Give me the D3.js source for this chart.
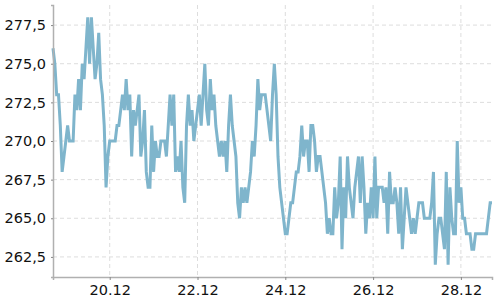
<!DOCTYPE html>
<html>
<head>
<meta charset="utf-8">
<script src="https://cdn.jsdelivr.net/npm/d3@7"></script>
<style>
  body { margin: 0; background: #fff; }
  .grid line { stroke: #ddd; stroke-dasharray: 4,3; }
  .axis text { font-family: "DejaVu Sans", sans-serif; font-size: 14.5px; fill: #111; }
</style>
</head>
<body>
<div id="chart"></div>
<script>
// hourly readings, first one at 18.12 17:00
var startTime = "2023-12-18T17:00:00";
var values = [
    276, 275, 273, 273, 271, 268, 269, 270, 271, 270, 270, 270, 273, 272, 274, 272, 275, 274, 276, 278,
    275, 278, 276, 274, 275, 277, 274, 273, 271, 267, 269, 270, 270, 270, 270, 271, 271, 272, 273, 272,
    274, 272, 273, 269, 272, 271, 272, 273, 269, 270, 272, 268, 267, 267, 271, 268, 270, 269, 269, 270,
    270, 270, 269, 271, 273, 271, 273, 268, 269, 268, 270, 267, 266, 271, 273, 271, 272, 270, 271, 272,
    273, 271, 273, 275, 272, 271, 274, 272, 273, 271, 270, 269, 270, 269, 270, 268, 271, 273, 271, 270,
    269, 266, 265, 267, 266, 267, 266, 267, 268, 270, 269, 271, 274, 272, 273, 273, 273, 272, 271, 270,
    273, 275, 273, 269, 267, 266, 265, 264, 264, 265, 266, 266, 267, 268, 268, 269, 271, 269, 270, 270,
    268, 271, 271, 270, 268, 269, 269, 268, 267, 266, 264, 265, 264, 264, 267, 265, 266, 269, 263, 267,
    265, 269, 267, 266, 265, 267, 268, 269, 266, 269, 267, 264, 266, 265, 267, 265, 269, 265, 267, 267,
    267, 266, 267, 264, 268, 266, 266, 267, 266, 264, 267, 263, 265, 267, 266, 265, 264, 265, 264, 265,
    266, 266, 266, 265, 265, 265, 265, 266, 268, 262, 264, 265, 265, 264, 263, 268, 262, 267, 265, 264,
    264, 270, 266, 267, 265, 265, 264, 264, 264, 263, 263, 264, 264, 264, 264, 264, 264, 264, 265, 266,
    266
];
var yTicks = [262.5, 265, 267.5, 270, 272.5, 275, 277.5];
var xTickDates = ["2023-12-20", "2023-12-22", "2023-12-24", "2023-12-26", "2023-12-28"];

var margin = { top: 5, right: 8, bottom: 23, left: 53 },
    width = 500 - margin.left - margin.right,
    height = 300 - margin.top - margin.bottom;

var t0 = new Date(startTime);
var data = values.map(function (v, i) {
    return { t: d3.timeHour.offset(t0, i), v: v };
});

var svg = d3.select("#chart")
    .append("svg")
    .attr("width", 500)
    .attr("height", 300)
    .append("g")
    .attr("transform", "translate(" + margin.left + "," + margin.top + ")");

var x = d3.scaleTime()
    .domain(d3.extent(data, function (d) { return d.t; }))
    .range([0, width]);

var ext = d3.extent(values);
var pad = (ext[1] - ext[0]) * 0.05;
var y = d3.scaleLinear()
    .domain([ext[0] - pad, ext[1] + pad])
    .range([height, 0]);

var xTicks = xTickDates.map(function (s) { return new Date(s + "T00:00:00"); });
var commaFmt = function (d) { return d3.format(".1f")(d).replace(".", ","); };

// grid
svg.append("g").attr("class", "grid")
    .selectAll("line").data(yTicks).enter().append("line")
    .attr("x1", 0).attr("x2", width)
    .attr("y1", function (d) { return y(d); })
    .attr("y2", function (d) { return y(d); });

svg.append("g").attr("class", "grid")
    .selectAll("line").data(xTicks).enter().append("line")
    .attr("y1", 0).attr("y2", height)
    .attr("x1", function (d) { return x(d); })
    .attr("x2", function (d) { return x(d); });

// the line
svg.append("path")
    .datum(data)
    .attr("fill", "none")
    .attr("stroke", "#7fb5cc")
    .attr("stroke-width", 3)
    .attr("stroke-linejoin", "miter")
    .attr("d", d3.line()
        .x(function (d) { return x(d.t); })
        .y(function (d) { return y(d.v); }));

// axes
var yAxis = svg.append("g").attr("class", "axis")
    .call(d3.axisLeft(y).tickValues(yTicks).tickFormat(commaFmt).tickSize(2).tickPadding(5));
var xAxis = svg.append("g").attr("class", "axis")
    .attr("transform", "translate(0," + height + ")")
    .call(d3.axisBottom(x).tickValues(xTicks).tickFormat(d3.timeFormat("%d.%m")).tickSize(3).tickPadding(5));

[yAxis, xAxis].forEach(function (a) {
    a.select(".domain").attr("stroke", "#b0b0b0").attr("stroke-width", 1.5);
    a.selectAll(".tick line").attr("stroke", "#888");
});
</script>
</body>
</html>
